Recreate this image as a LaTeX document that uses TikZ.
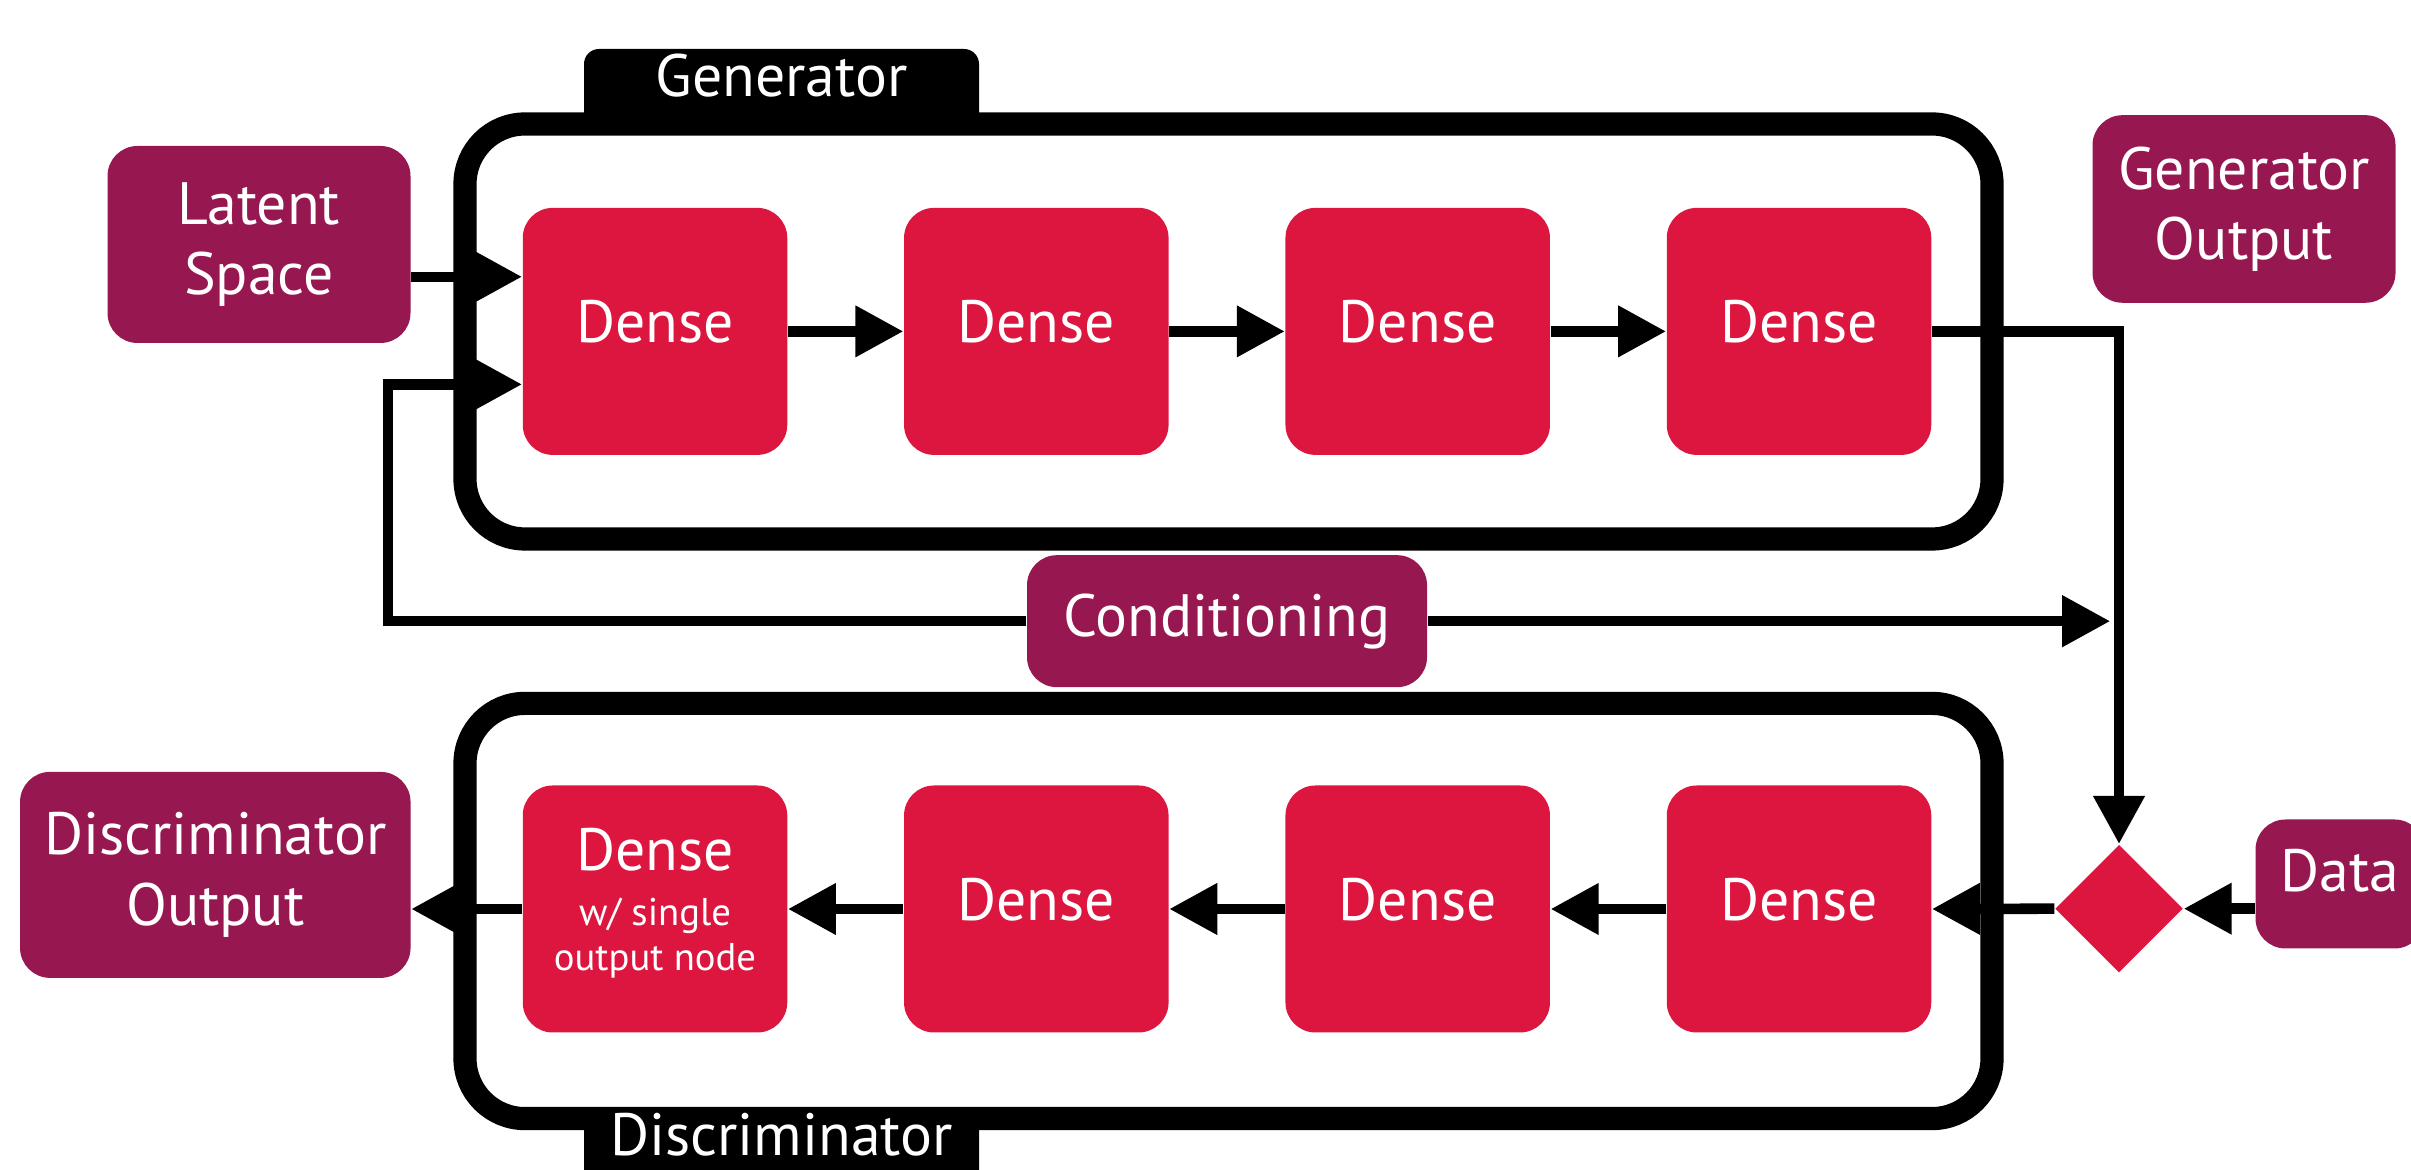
\documentclass[tikz,border=0pt]{standalone}
\usepackage{fontspec}
\setmainfont{PT Sans}
\usetikzlibrary{arrows.meta,shapes.geometric}
\definecolor{plum}{RGB}{151,24,80}
\definecolor{crim}{RGB}{220,22,62}

\begin{document}
\begin{tikzpicture}[
    font=\fontsize{17}{20}\selectfont,
    io/.style={rectangle, rounded corners=0.3cm, fill=plum, text=white, align=center, inner sep=0pt},
    dense/.style={rectangle, rounded corners=0.3cm, fill=crim, text=white, align=center,
        minimum width=2.645cm, minimum height=2.47cm, inner sep=0pt, text depth=0.2cm},
    blockframe/.style={line width=6.6pt, rounded corners=0.6cm},
    tabbox/.style={rectangle, rounded corners=0.15cm, fill=black, text=white, minimum width=3.95cm, inner sep=0pt},
    conn/.style={line width=3pt, -{Triangle[length=0.48cm, width=0.49cm]}},
]
    \useasboundingbox (0,0) rectangle (24.11,11.70);

    % Frames
    \draw[blockframe] (4.65,6.31) rectangle (19.92,10.46);
    \draw[blockframe] (4.65,0.514) rectangle (19.92,4.666);
    \node[tabbox, minimum height=0.81cm, text height=0.4cm, text depth=0.25cm] (gtab) at (7.815,10.805) {Generator};
    \node[tabbox, minimum height=1.0cm, text height=0.4cm, text depth=0.48cm] (dtab) at (7.815,0.1) {Discriminator};

    % Nodes
    \node[io, minimum width=3.03cm, minimum height=1.97cm] (lat) at (2.59,9.255) {Latent\\Space};
    \node[io, minimum width=3.03cm, minimum height=1.876cm] (gout) at (22.44,9.61) {Generator\\Output};
    \node[io, minimum width=4.0cm, minimum height=1.32cm] (cond) at (12.27,5.488) {Conditioning};
    \node[io, minimum width=3.905cm, minimum height=2.06cm] (dout) at (2.153,2.951) {Discriminator\\Output};
    \node[io, minimum width=1.69cm, minimum height=1.29cm, text height=0.42cm, text depth=0.26cm] (data) at (23.40,2.86) {Data};

    \node[dense] (g1) at (6.55,8.386) {Dense};
    \node[dense] (g2) at (10.363,8.386) {Dense};
    \node[dense] (g3) at (14.177,8.386) {Dense};
    \node[dense] (g4) at (17.99,8.386) {Dense};

    \node[dense, font=\fontsize{11}{12.8}\selectfont] (d1) at (6.55,2.61) {\fontsize{17}{20}\selectfont Dense\\[2.8pt]w/ single\\output node};
    \node[dense] (d2) at (10.363,2.61) {Dense};
    \node[dense] (d3) at (14.177,2.61) {Dense};
    \node[dense] (d4) at (17.99,2.61) {Dense};

    \node[diamond, fill=crim, minimum width=1.28cm, minimum height=1.28cm, inner sep=0pt] (mix) at (21.19,2.613) {};

    % Edges
    \coordinate (g1a) at ([yshift=5.46mm]g1.west);
    \coordinate (g1b) at ([yshift=-5.3mm]g1.west);
    \draw[conn] (lat.east |- g1a) -- (g1a);
    \draw[conn] (g1.east) -- (g2.west);
    \draw[conn] (g2.east) -- (g3.west);
    \draw[conn] (g3.east) -- (g4.west);
    \draw[conn] (g4.east) -| (mix.north);
    \draw[conn] (cond.west) -| ([xshift=-13.4mm]g1b) -- (g1b);
    \draw[conn, shorten >=2.5pt] (cond.east) -- (cond -| mix);
    \draw[conn] (data.west |- mix) -- (mix.east);
    \draw[conn] (mix.west) -- (d4.east);
    \draw[conn] (d4.west) -- (d3.east);
    \draw[conn] (d3.west) -- (d2.east);
    \draw[conn] (d2.west) -- (d1.east);
    \draw[conn] (d1.west) -- (dout.east |- d1);
\end{tikzpicture}
\end{document}
